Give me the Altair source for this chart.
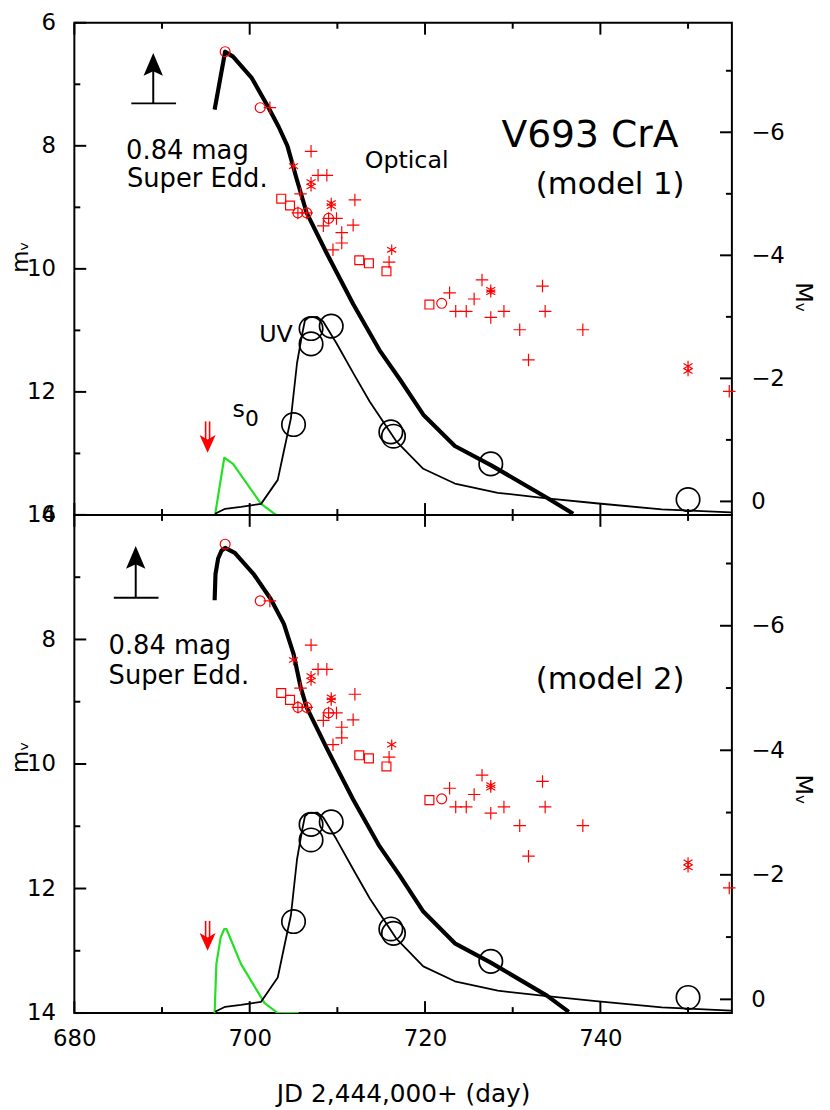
import altair as alt
import pandas as pd

# ---------------- axes ----------------
day_range = [680, 755]
mag_range = [6, 14]
dist_mod = 13.78
x_major = [680, 700, 720, 740]
x_minor = [690, 710, 730, 750]
m_major = [6, 8, 10, 12, 14]
m_minor = [7, 9, 11, 13]
M_major = [-6, -4, -2, 0]
M_minor = [-7, -5, -3, -1]

# ---------------- model V light curves (thick) ----------------
v1_day = [696.0, 697.2, 698.1, 700.2, 702.0, 703.3, 704.3, 705.4, 706.5, 708.8, 711.8,
          714.8, 717.1, 719.8, 723.4, 727.5, 733.9, 736.9]
v1_mag = [7.41, 6.47, 6.55, 6.89, 7.34, 7.69, 8.00, 8.56, 9.09, 9.75, 10.57,
          11.32, 11.79, 12.37, 12.88, 13.19, 13.72, 13.98]
v2_day = [696.0, 696.1, 696.4, 696.8, 697.2, 698.3, 700.5, 702.4, 703.9, 705.0, 705.8,
          706.5, 708.8, 711.8, 714.8, 717.1, 719.8, 723.4, 727.5, 733.9, 736.4]
v2_mag = [7.37, 6.95, 6.70, 6.57, 6.53, 6.61, 6.96, 7.35, 7.75, 8.23, 8.76,
          9.09, 9.75, 10.57, 11.32, 11.79, 12.37, 12.88, 13.19, 13.72, 13.98]

# ---------------- model UV light curve (thin) ----------------
uv_day = [696.05, 697.2, 699.0, 701.3, 703.2, 703.9, 704.7, 705.4, 706.0, 706.3, 706.7,
          707.7, 708.4, 709.9, 711.8, 713.7, 716.7, 719.8, 723.4, 728.3, 733.9, 739.5,
          747.0, 754.9]
uv_mag = [13.98, 13.90, 13.87, 13.82, 13.43, 12.96, 12.43, 11.53, 11.05, 10.84, 10.79,
          10.78, 10.86, 11.21, 11.69, 12.16, 12.80, 13.25, 13.49, 13.64, 13.73, 13.81,
          13.91, 13.96]

# ---------------- green curves ----------------
g1_day = [696.05, 697.1, 698.1, 701.3, 703.0]
g1_mag = [14.0, 13.07, 13.17, 13.82, 14.0]
g2_day = [696.0, 696.2, 696.7, 697.1, 697.35, 699.0, 701.7, 703.2, 705.6]
g2_mag = [14.0, 13.21, 12.78, 12.65, 12.65, 13.21, 13.84, 14.0, 14.0]

# ---------------- UV observations (big black circles) ----------------
uvo_day = [705.0, 707.0, 707.0, 709.3, 716.1, 716.4, 727.5, 750.0]
uvo_mag = [12.53, 10.97, 11.22, 10.93, 12.65, 12.72, 13.17, 13.75]

# ---------------- optical observations (red) ----------------
oc_day = [697.2, 701.2, 705.5, 706.5, 709.0, 721.9]
oc_mag = [6.47, 7.38, 9.09, 9.09, 9.18, 10.56]
op_day = [702.3, 707.0, 707.8, 708.8, 705.8, 705.5, 706.5, 709.0, 709.9, 712.0, 708.4,
          711.8, 710.5, 710.5, 709.5, 715.9, 722.8, 723.5, 724.7, 725.6, 726.5, 727.5,
          729.0, 730.8, 731.8, 733.4, 733.7, 738.0, 754.7]
op_mag = [7.38, 8.09, 8.48, 8.48, 8.78, 9.09, 9.09, 9.18, 9.18, 8.88, 9.30,
          9.29, 9.41, 9.58, 9.69, 9.89, 10.39, 10.69, 10.69, 10.49, 10.18, 10.79,
          10.69, 10.99, 11.48, 10.28, 10.69, 10.99, 11.99]
os_day = [703.6, 704.6, 712.5, 713.6, 715.6, 720.5]
os_mag = [8.86, 8.97, 9.86, 9.91, 10.04, 10.58]
oa_day = [705.0, 707.0, 707.0, 709.3, 709.3, 716.2, 727.5, 727.5, 750.0, 750.0]
oa_mag = [8.33, 8.59, 8.66, 8.93, 8.98, 9.69, 10.34, 10.38, 11.58, 11.66]

# ---------------- annotations ----------------
arrow_day = [689.0, 687.0]
arrow_bar_from = [686.5, 684.5]
arrow_bar_to = [691.6, 689.6]
arrow_bar_mag = [7.31, 7.33]
arrow_tip_mag = [6.49, 6.50]
red_day = [695.2, 695.2]
red_top = [12.48, 12.52]
red_tip = [12.99, 13.00]

note_text = ["0.84 mag", "Super Edd."]
note_day = [[685.9, 686.0], [683.9, 683.9]]
note_mag = [[8.21, 8.67], [8.24, 8.71]]

title_text = [["V693 CrA", "(model 1)"], ["(model 2)"]]
title_day = [[748.9, 749.6], [749.6]]
title_mag = [[8.02, 8.79], [8.79]]
title_size = [[38, 31], [31]]

center_text = ["Optical", "UV", "s", "0"]
center_day = [717.9, 703.0, 698.75, 700.25]
center_mag = [8.36, 11.19, 12.40, 12.56]
center_size = [24, 24, 24, 22]

# ---------------- styling ----------------
FONT = "DejaVu Sans"
RED = "#ff0000"
GREEN = "#22e022"
W = 664
HEIGHTS = [497, 503]
LEFT_TITLE_Y = [236, 244]
RIGHT_TITLE_Y = [277, 277]
PLUS = "M-1,0L1,0M0,-1L0,1"
AST = "M0,-1L0,1M-0.87,-0.5L0.87,0.5M-0.87,0.5L0.87,-0.5"
HEAD_UP = "M0,0L-0.85,2L0,1.6L0.85,2Z"
HEAD_DOWN = "M0,0L-0.9,-2L0,-1.5L0.9,-2Z"

xscale = alt.Scale(domain=day_range, nice=False, zero=False)
yscale = alt.Scale(domain=mag_range, nice=False, zero=False, reverse=True)
Mscale = alt.Scale(domain=[mag_range[0] - dist_mod, mag_range[1] - dist_mod],
                   nice=False, zero=False, reverse=True)

bottom_axis = alt.Axis(orient="bottom", values=x_major, title="JD 2,444,000+ (day)",
                       labelPadding=15, titlePadding=31, labelFlush=False, format="d")


def df(**cols):
    d = pd.DataFrame(cols)
    d["i"] = range(len(d))
    return d


def panel(n):
    H = HEIGHTS[n]
    xa = bottom_axis if n == 1 else None
    left_axis = alt.Axis(orient="left", values=m_major, title="mᵥ", labelPadding=19,
                         titlePadding=-5.8, titleY=LEFT_TITLE_Y[n], titleFontSize=23)
    right_axis = alt.Axis(orient="right", values=M_major, title="Mᵥ", labelPadding=19,
                          titlePadding=6, titleY=RIGHT_TITLE_Y[n], titleFontSize=24)

    def X(f="day"):
        return alt.X(f"{f}:Q", scale=xscale, axis=xa)

    def Y(f="mag"):
        return alt.Y(f"{f}:Q", scale=yscale, axis=left_axis)

    def line(days, mags, color, sw):
        return alt.Chart(df(day=days, mag=mags)).mark_line(
            color=color, strokeWidth=sw, clip=True, strokeJoin="round"
        ).encode(x=X(), y=Y(), order="i:Q")

    def points(days, mags, shape, size, color, sw=1.2, filled=False):
        return alt.Chart(df(day=days, mag=mags)).mark_point(
            shape=shape, size=size, color=color, strokeWidth=sw, filled=filled, opacity=1
        ).encode(x=X(), y=Y())

    def texts(words, days, mags, sizes, align):
        return alt.Chart(df(day=days, mag=mags, t=words, s=sizes)).mark_text(
            align=align, baseline="alphabetic", font=FONT, color="black"
        ).encode(x=X(), y=Y(), text="t:N", size=alt.Size("s:Q", scale=None, legend=None))

    layers = []
    for vals, ln in [(x_major, 12), (x_minor, 6)]:
        d = df(day=vals)
        layers.append(alt.Chart(d).mark_rule(color="black", strokeWidth=2).encode(
            x=X(), y=alt.value(0), y2=alt.value(ln)))
        layers.append(alt.Chart(d).mark_rule(color="black", strokeWidth=2).encode(
            x=X(), y=alt.value(H), y2=alt.value(H - ln)))
    for vals, ln in [(m_major, 12), (m_minor, 6)]:
        layers.append(alt.Chart(df(mag=vals)).mark_rule(color="black", strokeWidth=2).encode(
            y=Y(), x=alt.value(0), x2=alt.value(ln)))

    layers += [
        line(g1_day if n == 0 else g2_day, g1_mag if n == 0 else g2_mag, GREEN, 2.2),
        line(uv_day, uv_mag, "black", 1.8),
        line(v1_day if n == 0 else v2_day, v1_mag if n == 0 else v2_mag, "black", 4.2),
        points(uvo_day, uvo_mag, "circle", 560, "black", 1.7),
        points(oc_day, oc_mag, "circle", 100, RED),
        points(op_day, op_mag, PLUS, 160, RED),
        points(os_day, os_mag, "square", 81, RED),
        points(oa_day, oa_mag, AST, 110, RED),
    ]

    # super-Eddington arrow
    layers.append(alt.Chart(df(day=[arrow_day[n]], mag=[arrow_bar_mag[n]], m2=[arrow_tip_mag[n] + 0.2]))
                  .mark_rule(color="black", strokeWidth=2)
                  .encode(x=X(), y=Y(), y2=alt.Y2("m2:Q")))
    layers.append(alt.Chart(df(day=[arrow_bar_from[n]], d2=[arrow_bar_to[n]], mag=[arrow_bar_mag[n]]))
                  .mark_rule(color="black", strokeWidth=2)
                  .encode(x=X(), x2=alt.X2("d2:Q"), y=Y()))
    layers.append(points([arrow_day[n]], [arrow_tip_mag[n]], HEAD_UP, 529, "black", 0, True))

    # red onset arrow (double shaft)
    for off in (-2, 2):
        layers.append(alt.Chart(df(day=[red_day[n]], mag=[red_top[n]], m2=[red_tip[n] - 0.15]))
                      .mark_rule(color=RED, strokeWidth=1.6, xOffset=off)
                      .encode(x=X(), y=Y(), y2=alt.Y2("m2:Q")))
    layers.append(points([red_day[n]], [red_tip[n]], HEAD_DOWN, 324, RED, 0, True))

    # texts
    layers.append(texts(note_text, note_day[n], note_mag[n], [26, 26], "left"))
    layers.append(texts(title_text[n], title_day[n], title_mag[n], title_size[n], "right"))
    if n == 0:
        layers.append(texts(center_text, center_day, center_mag, center_size, "center"))

    main = alt.layer(*layers)

    right = alt.layer(*[
        alt.Chart(df(M=vals)).mark_rule(color="black", strokeWidth=2).encode(
            y=alt.Y("M:Q", scale=Mscale, axis=right_axis),
            x=alt.value(W), x2=alt.value(W - ln))
        for vals, ln in [(M_major, 12), (M_minor, 6)]
    ])

    return alt.layer(main, right).resolve_scale(y="independent").properties(width=W, height=H)


chart = alt.vconcat(panel(0), panel(1), spacing=0, bounds="flush").properties(
    padding={"left": 0, "top": -2.5, "right": 7, "bottom": -1}, background="white"
).configure_view(
    stroke="black", strokeWidth=2
).configure_axis(
    labelFont=FONT, labelFontSize=23, labelColor="black",
    titleFont=FONT, titleFontSize=25, titleFontWeight="normal", titleColor="black",
    grid=False, domain=False, ticks=False, tickSize=0
)

chart.save("out.html", embed_options={"renderer": "svg", "actions": False})
